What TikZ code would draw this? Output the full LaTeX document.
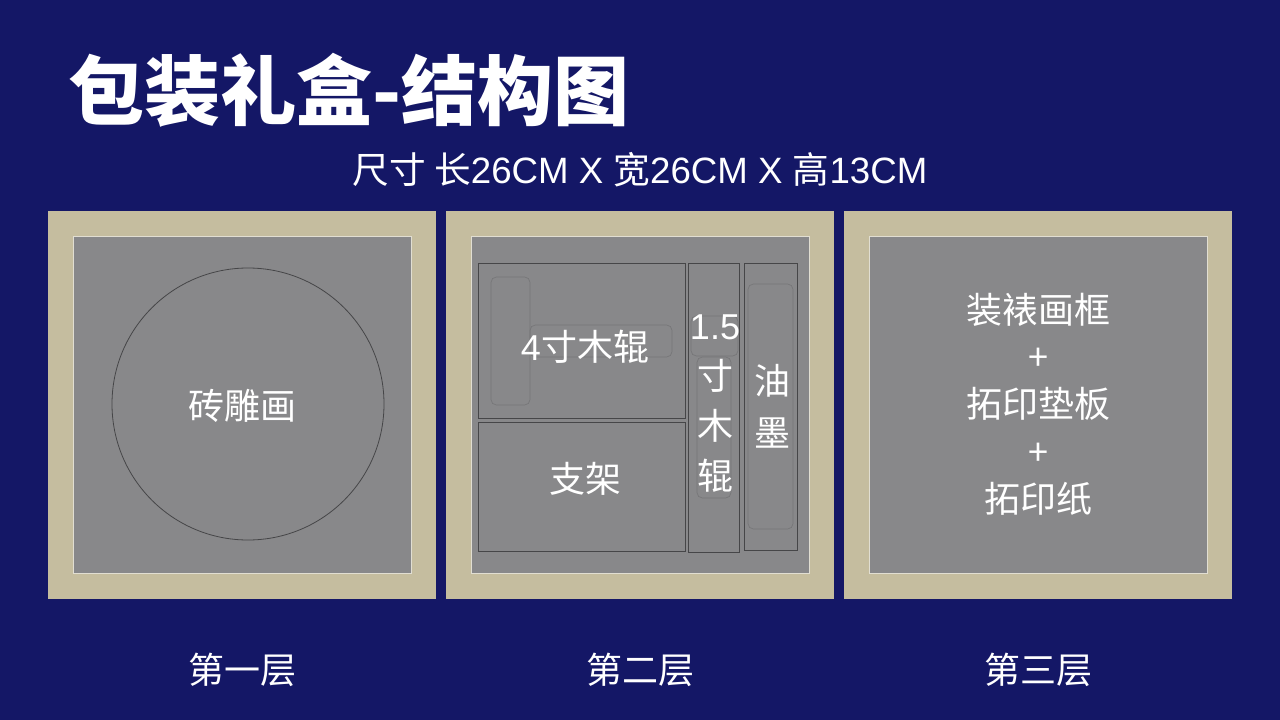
\documentclass[tikz,border=0pt]{standalone}
\usepackage{fontspec}
\setmainfont{Noto Sans CJK SC}
\newfontfamily\latin{Liberation Sans}
\definecolor{navy}{RGB}{20,23,102}
\definecolor{beige}{RGB}{197,189,159}
\definecolor{traygray}{RGB}{136,136,138}
\definecolor{edge}{RGB}{225,222,210}
\definecolor{slotline}{RGB}{70,70,72}
\definecolor{pocketline}{RGB}{118,118,120}
\begin{document}
\begin{tikzpicture}[x=0.75pt,y=-0.75pt,
    tray/.style={fill=traygray,draw=edge,line width=0.6pt},
    slot/.style={draw=slotline,line width=0.6pt},
    pocket/.style={draw=pocketline,rounded corners=4pt,line width=0.5pt},
    label/.style={text=white,inner sep=0pt,font=\fontsize{27}{30}\selectfont}]
  \useasboundingbox (0,0) rectangle (1280,720);
  % Background
  \fill[navy] (0,0) rectangle (1280,720);
  % Title
  \node[anchor=west,text=white,inner sep=0pt,font=\fontsize{57}{62}\selectfont\bfseries] (title) at (68,90) {包装礼盒-结构图};
  \node[text=white,inner sep=0pt,font=\fontsize{27.5}{30}\selectfont] (size) at (640,170)
    {尺寸 长{\latin 26CM X }宽{\latin 26CM X }高{\latin 13CM}};
  % Panels
  \foreach \x in {48,446,844} {
    \fill[beige] (\x,211) rectangle ++(388,388);
    \filldraw[tray] (\x+25,236) rectangle ++(338,337);
  }
  % Layer 1
  \draw[slotline,line width=0.6pt] (248,404) circle[radius=136];
  \node[label] (brick) at (242,406) {砖雕画};
  % Layer 2
  \draw[slot] (478,263) rectangle (685,418);
  \draw[slot] (478,422) rectangle (685,551);
  \draw[slot] (688,263) rectangle (739,552);
  \draw[slot] (744,263) rectangle (797,550);
  \draw[pocket] (491,277) rectangle (530,405);
  \draw[pocket] (530,325) rectangle (672,357);
  \draw[pocket] (691,316) rectangle (738,356);
  \draw[pocket] (697,357) rectangle (731,498);
  \draw[pocket] (748,284) rectangle (793,529);
  \node[label] (roller) at (585,347) {{\latin 4}寸木辊};
  \node[label] (stand) at (585,479) {支架};
  \node[label,align=center,font=\fontsize{27}{37.5}\selectfont] (small) at (715,404) {{\latin 1.5}\\寸\\木\\辊};
  \node[label,align=center,font=\fontsize{27}{39}\selectfont] (ink) at (772,406) {油\\墨};
  % Layer 3
  \node[label,align=center,font=\fontsize{27}{35.5}\selectfont] (frame) at (1038,404) {装裱画框\\+\\拓印垫板\\+\\拓印纸};
  % Captions
  \foreach \x/\t [count=\i] in {242/第一层,640/第二层,1038/第三层}
    \node[label] (layer\i) at (\x,670) {\t};
\end{tikzpicture}
\end{document}
